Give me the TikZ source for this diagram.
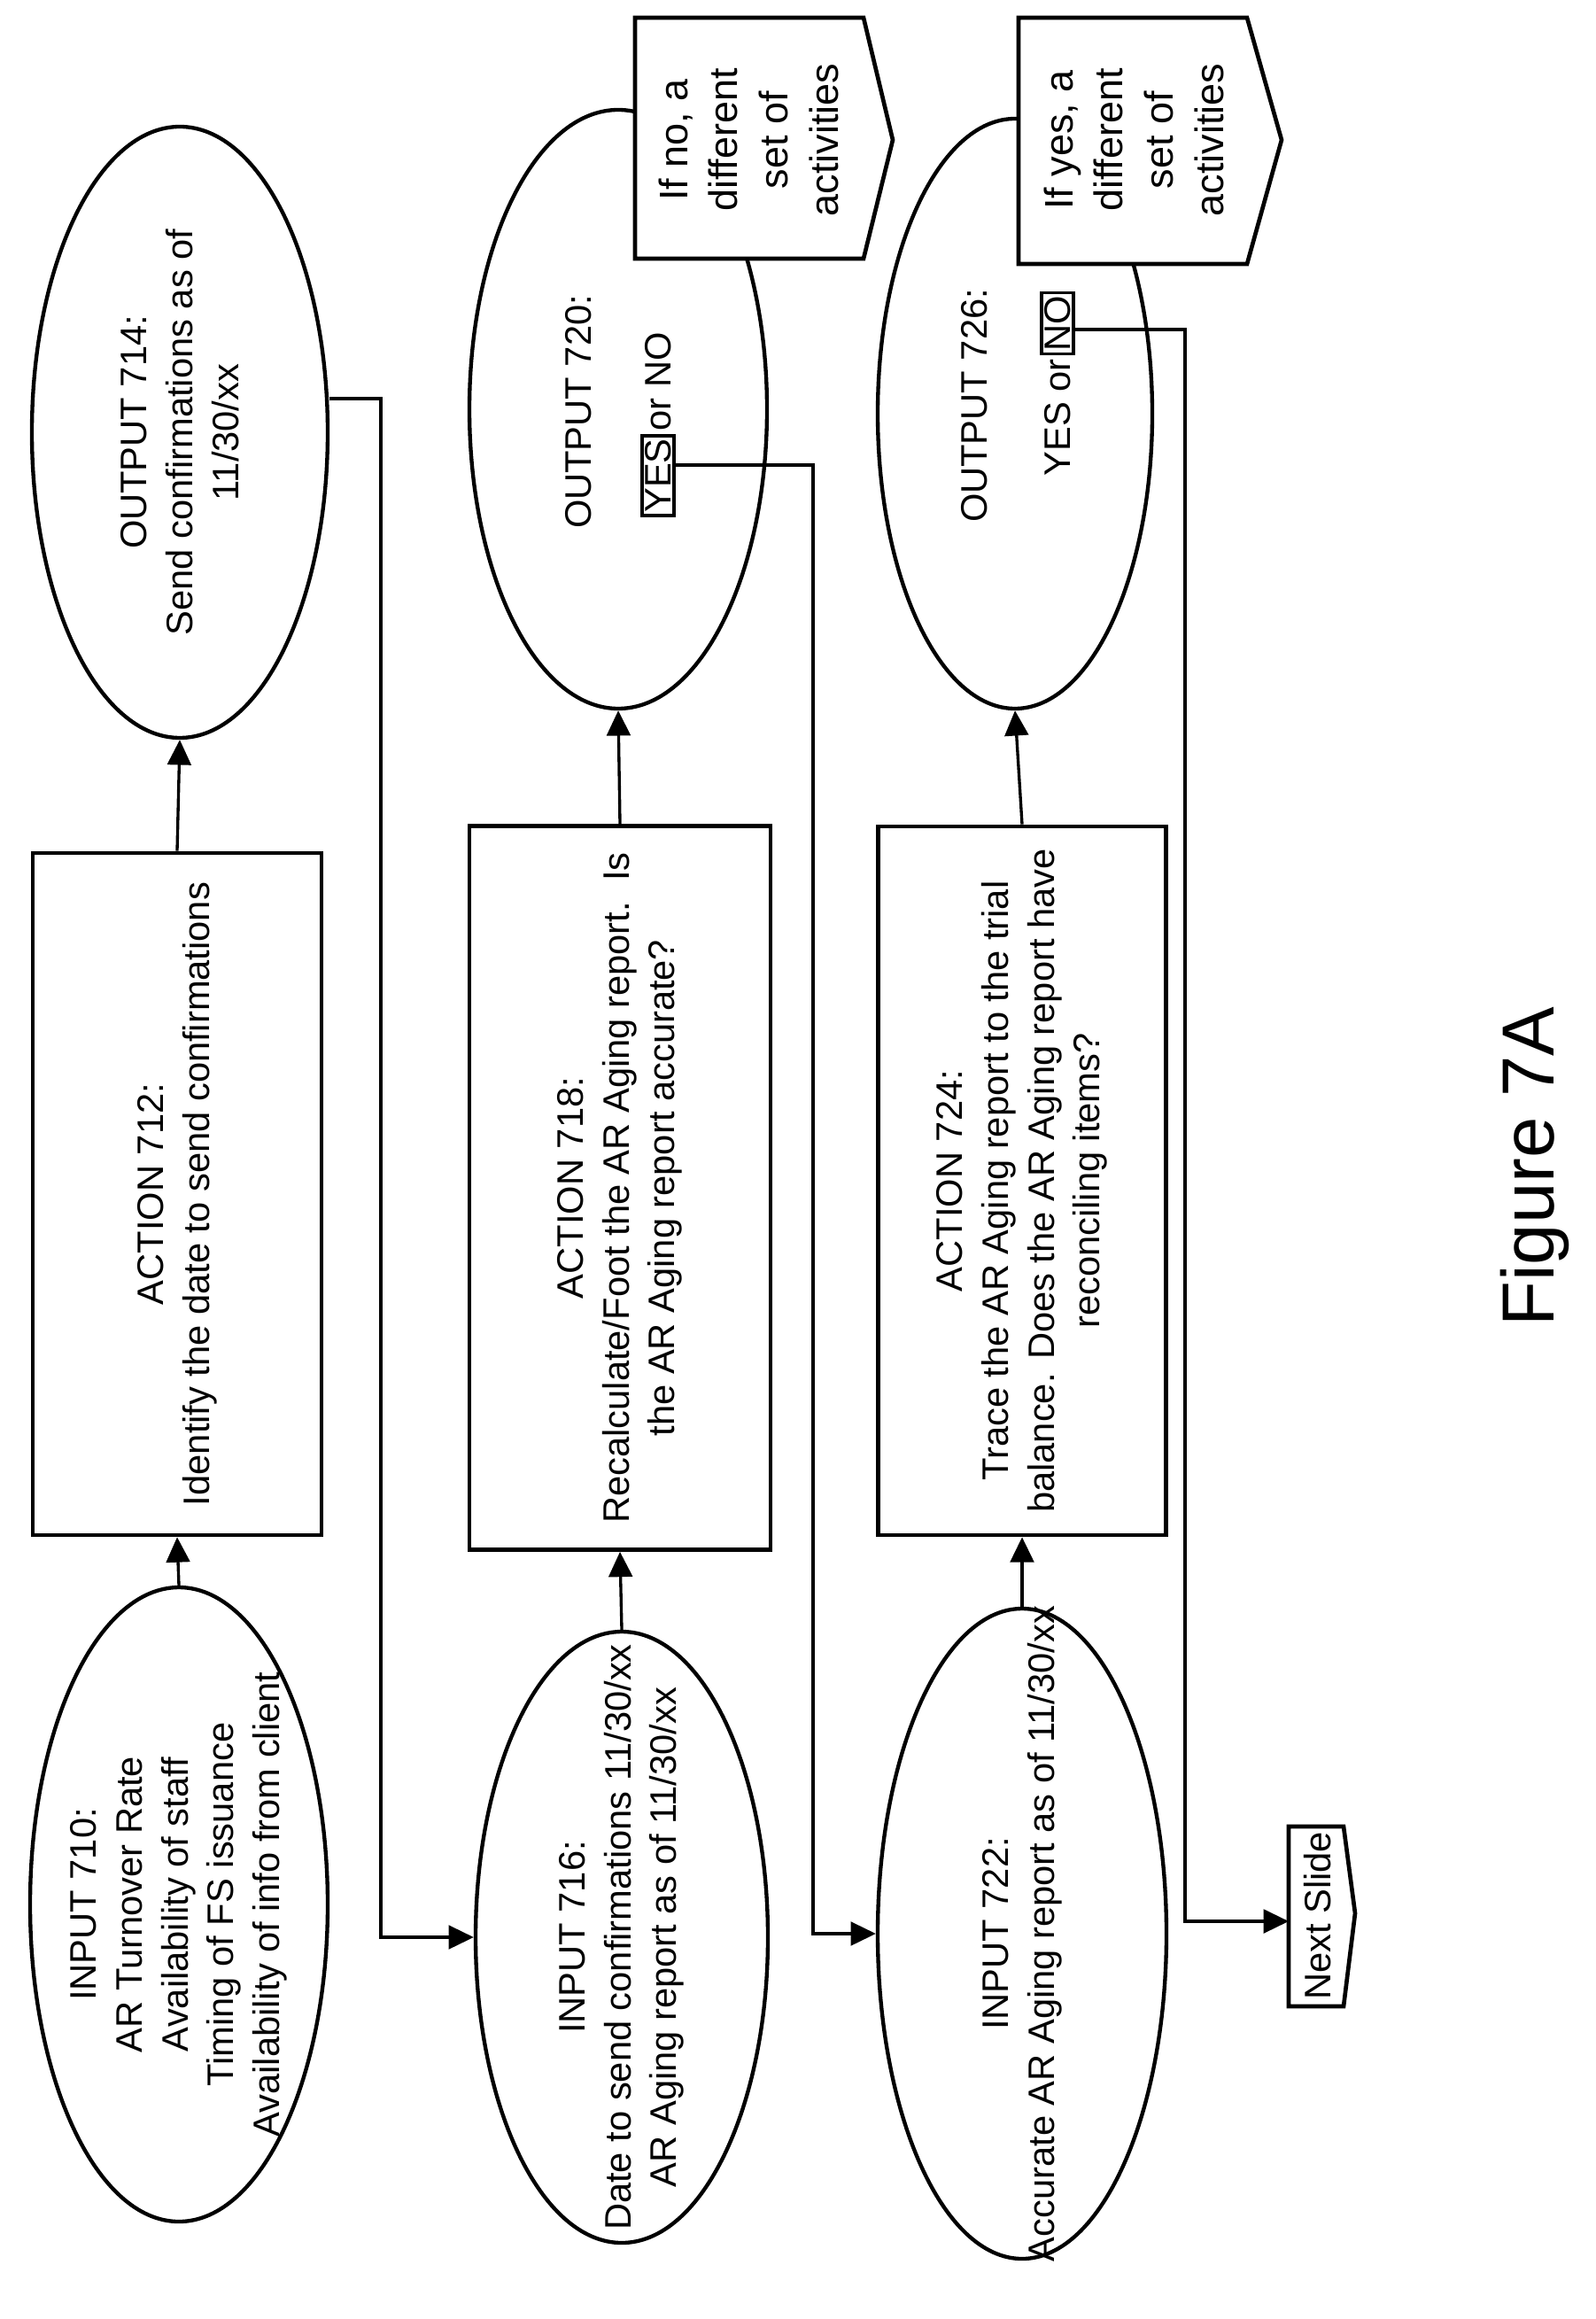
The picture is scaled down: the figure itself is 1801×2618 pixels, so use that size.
\documentclass[tikz,border=0pt]{standalone}
\usepackage{fontspec}
\setmainfont{Liberation Sans}
\usetikzlibrary{shapes.geometric,arrows.meta}
\begin{document}
\begin{tikzpicture}[x=0.3pt,y=0.3pt,
  every node/.style={font=\fontsize{12.5}{15.5}\selectfont},
  ell/.style={ellipse,draw,line width=1.3pt,inner sep=0pt},
  box/.style={rectangle,draw,line width=1.4pt,inner sep=0pt},
  txt/.style={rotate=90,align=center,inner sep=0pt},
  ptxt/.style={txt,font=\fontsize{13.5}{17}\selectfont},
  lab/.style={rotate=90,draw,line width=1pt,inner sep=1pt},
  pent/.style={draw,line width=1.4pt,fill=white,line join=miter},
  con/.style={line width=1pt},
  arr/.style={con,-{Triangle[length=8.5pt,width=8pt]}}]
\useasboundingbox (0,0) rectangle (1801,-2618);
% column 1
\node[ell,minimum width={336*0.3pt},minimum height={716*0.3pt}] (e710) at (202,-2150) {};
\node[txt] at (e710) {INPUT 710:\\AR Turnover Rate\\Availability of staff\\Timing of FS issuance\\Availability of info from client};
\node[box,minimum width={326*0.3pt},minimum height={770*0.3pt}] (b712) at (200,-1348) {};
\node[txt] at (b712) {ACTION 712:\\Identify the date to send confirmations};
\node[ell,minimum width={334*0.3pt},minimum height={690*0.3pt}] (e714) at (203,-488) {};
\node[txt] at (e714) {OUTPUT 714:\\Send confirmations as of\\11/30/xx};
% column 2
\node[ell,minimum width={330*0.3pt},minimum height={690*0.3pt}] (e716) at (702,-2187) {};
\node[txt] at (e716) {INPUT 716:\\Date to send confirmations 11/30/xx\\AR Aging report as of 11/30/xx};
\node[box,minimum width={340*0.3pt},minimum height={817*0.3pt}] (b718) at (700,-1341) {};
\node[txt] at (b718) {ACTION 718:\\Recalculate/Foot the AR Aging report.\ \ Is\\the AR Aging report accurate?};
\node[ell,minimum width={336*0.3pt},minimum height={676*0.3pt}] (e720) at (698,-462) {};
\node[txt] at (653,-465) {OUTPUT 720:};
\node[lab] (yes) at (743,-537) {YES};
\node[rotate=90,anchor=west,inner sep=1pt] at (yes.east) {or NO};
\draw[pent] (717,-20) -- (975,-20) -- (1008,-158) -- (975,-292) -- (717,-292) -- cycle;
\node[ptxt] (pno) at (845,-158) {If no, a\\different\\set of\\activities};
% column 3
\node[ell,minimum width={326*0.3pt},minimum height={734*0.3pt}] (e722) at (1154,-2183) {};
\node[txt] at (e722) {INPUT 722:\\Accurate AR Aging report as of 11/30/xx};
\node[box,minimum width={325*0.3pt},minimum height={800*0.3pt}] (b724) at (1154,-1333) {};
\node[txt] at (b724) {ACTION 724:\\Trace the AR Aging report to the trial\\balance. Does the AR Aging report have\\reconciling items?};
\node[ell,minimum width={310*0.3pt},minimum height={666*0.3pt}] (e726) at (1146,-467) {};
\node[txt] at (1100,-458) {OUTPUT 726:};
\node[lab] (no) at (1194,-365) {NO};
\node[rotate=90,anchor=east,inner sep=1pt] at (no.west) {YES or};
\draw[pent] (1150,-20) -- (1408,-20) -- (1447,-158) -- (1408,-298) -- (1150,-298) -- cycle;
\node[ptxt] (pyes) at (1280,-158) {If yes, a\\different\\set of\\activities};
% next slide
\draw[pent] (1455,-2062) -- (1517,-2062) -- (1530,-2160) -- (1517,-2265) -- (1455,-2265) -- cycle;
\node[txt] (next) at (1488,-2163) {Next Slide};
\coordinate (nextin) at (1455,-2169);
% connectors
\draw[arr] (e710.north) -- (b712.south);
\draw[arr] (b712.north) -- (e714.south);
\draw[arr] (e716.north) -- (b718.south);
\draw[arr] (b718.north) -- (e720.south);
\draw[arr] (e722.north) -- (b724.south);
\draw[arr] (b724.north) -- (e726.south);
\draw[arr] (e714.east |- 0,-450) -- (430,-450) |- (e716.west);
\draw[arr] (yes.south |- 0,-525) -- (918,-525) |- (e722.west);
\draw[arr] (no.south |- 0,-372) -- (1338,-372) |- (nextin);
\node[rotate=90,font=\fontsize{25}{30}\selectfont] (fig) at (1733,-1317) {Figure 7A};
\end{tikzpicture}
\end{document}
